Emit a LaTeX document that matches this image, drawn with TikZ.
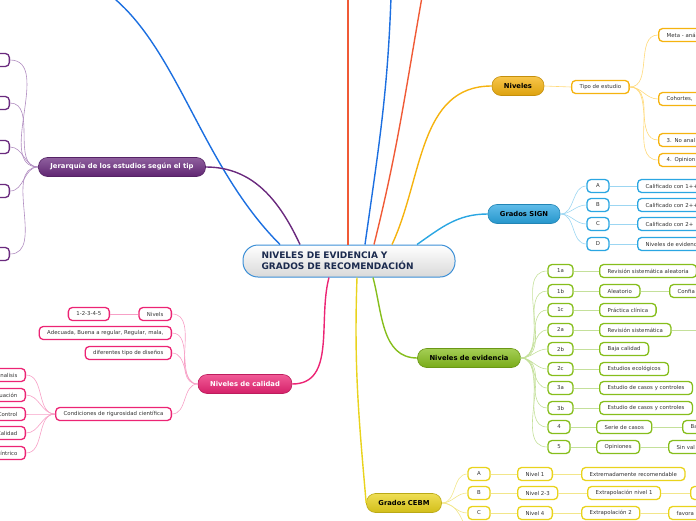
\documentclass[tikz,border=0pt]{standalone}
\usepackage{fontspec}
\setmainfont{DejaVu Sans}
\usepackage{xcolor}
\usepackage{tikz}

\definecolor{hubline}{HTML}{3C8FD6}
\definecolor{hubtext}{HTML}{1B2A4E}
\definecolor{leaftext}{HTML}{333333}
\definecolor{tangerine}{HTML}{F5B30F}
\definecolor{tangerinepale}{HTML}{FFD978}
\definecolor{sky}{HTML}{2AA6E2}
\definecolor{skypale}{HTML}{9CD6F2}
\definecolor{lime}{HTML}{86BE1C}
\definecolor{limepale}{HTML}{C4E09A}
\definecolor{sun}{HTML}{E9D31C}
\definecolor{sunpale}{HTML}{F2E68A}
\definecolor{plum}{HTML}{6A2A7E}
\definecolor{plumpale}{HTML}{B08CC0}
\definecolor{rosy}{HTML}{EC2474}
\definecolor{rosypale}{HTML}{F7A0C6}
\definecolor{azure}{HTML}{1C6FE0}
\definecolor{coral}{HTML}{F05A36}

\begin{document}
\begin{tikzpicture}[
    x=1pt, y=-1pt,
    hub/.style={
      draw=hubline, line width=1pt, rounded corners=15pt,
      top color=white, bottom color=black!15, text=hubtext,
      text width=175pt, align=left, inner xsep=18.5pt, minimum height=32pt,
      font=\fontsize{9}{11}\selectfont\bfseries,
    },
    topic/.style={
      draw=#1!80!black, line width=0.6pt, rounded corners=9pt,
      top color=#1!75, bottom color=#1!90!black,
      minimum height=19pt, inner xsep=12pt, inner ysep=0pt,
      font=\fontsize{6.8}{8}\selectfont\bfseries,
    },
    leaf/.style={
      draw=#1, fill=white, line width=1.3pt, rounded corners=4pt,
      minimum height=13pt, inner xsep=8pt, inner ysep=0pt, text=leaftext,
      font=\fontsize{5.4}{6.5}\selectfont,
    },
    code/.style={leaf=#1, minimum width=22pt, inner xsep=4pt},
    cutR/.style={leaf=#1, anchor=west, text width=60pt, align=left},
    cutL/.style={leaf=#1, anchor=east, text width=40pt, align=right},
    trunk/.style={draw=#1, line width=1.4pt},
    twig/.style={draw=#1, line width=0.6pt},
  ]
  \useasboundingbox (0,0) rectangle (696,520);
  \clip (0,0) rectangle (696,520);

  % Central topic
  \node[hub] (hub) at (349,261) {NIVELES DE EVIDENCIA Y\\GRADOS DE RECOMENDACIÓN};

  % Branches leaving the picture at the top
  \coordinate (upA) at (20,-35);
  \coordinate (upB) at (348,-3);
  \coordinate (upC) at (391,-3);
  \coordinate (upD) at (422,-3);

  % Niveles
  \node[topic=tangerine] (niv) at (518,86) {Niveles};
  \node[leaf=tangerine, anchor=west] (tipo) at (571,87) {Tipo de estudio};
  \node[cutR=tangerine] (meta) at (658,35)  {Meta - anál};
  \node[cutR=tangerine] (coh)  at (658,99)  {Cohortes,};
  \node[cutR=tangerine] (noan) at (658,140) {3. No anal};
  \node[cutR=tangerine] (opin) at (658,160) {4. Opinion};

  % Grados SIGN
  \node[topic=sky] (sign) at (524,214) {Grados SIGN};
  \node[code=sky] (signA) at (598,186) {A};
  \node[code=sky] (signB) at (598,205) {B};
  \node[code=sky] (signC) at (598,224) {C};
  \node[code=sky] (signD) at (598,244) {D};
  \node[cutR=sky] (calA) at (637,186) {Calificado con 1++};
  \node[cutR=sky] (calB) at (637,205) {Calificado con 2++};
  \node[cutR=sky] (calC) at (637,224) {Calificado con 2+};
  \node[cutR=sky] (calD) at (637,244) {Niveles de evidenc};

  % Niveles de evidencia
  \node[topic=lime] (evid) at (469,358) {Niveles de evidencia};
  \node[code=lime, minimum width=25pt] (e1a) at (560.5,271) {1a};
  \node[code=lime, minimum width=25pt] (e1b) at (560.5,291) {1b};
  \node[code=lime, minimum width=25pt] (e1c) at (560.5,310) {1c};
  \node[code=lime, minimum width=25pt] (e2a) at (560.5,330) {2a};
  \node[code=lime, minimum width=25pt] (e2b) at (560.5,349) {2b};
  \node[code=lime, minimum width=25pt] (e2c) at (560.5,369) {2c};
  \node[code=lime, minimum width=25pt] (e3a) at (560.5,388) {3a};
  \node[code=lime, minimum width=25pt] (e3b) at (560.5,408) {3b};
  \node[code=lime] (e4) at (559,427) {4};
  \node[code=lime] (e5) at (559,447) {5};
  \node[leaf=lime, anchor=west] (rsa)   at (599,271) {Revisión sistemática aleatoria};
  \node[leaf=lime, anchor=west] (alea)  at (599,291) {Aleatorio};
  \node[cutR=lime]              (conf)  at (669,291) {Confia};
  \node[leaf=lime, anchor=west] (prac)  at (599,310) {Práctica clínica};
  \node[leaf=lime, anchor=west] (rsis)  at (599,330) {Revisión sistemática};
  \coordinate (rsisOut) at (702,330);
  \node[leaf=lime, anchor=west] (baja)  at (599,349) {Baja calidad};
  \node[leaf=lime, anchor=west] (ecol)  at (599,369) {Estudios ecológicos};
  \node[leaf=lime, anchor=west] (cc3a)  at (599,388) {Estudio de casos y controles};
  \node[leaf=lime, anchor=west] (cc3b)  at (599,408) {Estudio de casos y controles};
  \node[leaf=lime, anchor=west] (serie) at (596,427) {Serie de casos};
  \node[cutR=lime]              (ba)    at (682,427) {Ba};
  \node[leaf=lime, anchor=west] (opis)  at (596,447) {Opiniones};
  \node[cutR=lime]              (sinv)  at (668,447) {Sin val};

  % Grados CEBM
  \node[topic=sun] (cebm) at (404,503) {Grados CEBM};
  \node[code=sun] (cA) at (479,474) {A};
  \node[code=sun] (cB) at (479,493) {B};
  \node[code=sun] (cC) at (479,513) {C};
  \coordinate (cebmOut) at (470,536);
  \node[leaf=sun, anchor=west] (n1)   at (517,474) {Nivel 1};
  \node[leaf=sun, anchor=west] (n23)  at (517,493) {Nivel 2-3};
  \node[leaf=sun, anchor=west] (n4)   at (517,513) {Nivel 4};
  \node[leaf=sun, anchor=west] (extr) at (581,474) {Extremadamente recomendable};
  \node[leaf=sun, anchor=west] (ext1) at (587,493) {Extrapolación nivel 1};
  \node[cutR=sun]              (extB) at (690,493) {};
  \node[leaf=sun, anchor=west] (ext2) at (581,513) {Extrapolación 2};
  \node[cutR=sun]              (fav)  at (668,513) {favora};

  % Jerarquia (left)
  \node[topic=plum, text=white] (jer) at (122,167) {Jerarquía de los estudios según el tip};
  \node[cutL=plum] (jer1) at (10,60)  {};
  \node[cutL=plum] (jer2) at (10,103) {};
  \node[cutL=plum] (jer3) at (10,147) {};
  \node[cutL=plum] (jer4) at (10,191) {};
  \node[cutL=plum] (jer5) at (10,254) {};

  % Niveles de calidad
  \node[topic=rosy, text=white] (cali) at (245,384) {Niveles de calidad};
  \node[leaf=rosy, anchor=east] (nivs)   at (172,314) {Nivels};
  \node[leaf=rosy, anchor=east] (escala) at (110,314) {1-2-3-4-5};
  \node[leaf=rosy, anchor=east] (adec)   at (172,333) {Adecuada, Buena a regular, Regular, mala,};
  \node[leaf=rosy, anchor=east] (dise)   at (172,353) {diferentes tipo de diseños};
  \node[leaf=rosy, anchor=east] (cond)   at (172,414) {Condiciones de rigurosidad científica};
  \node[cutL=rosy] (cond1) at (26,375) {nalisis};
  \node[cutL=rosy] (cond2) at (26,395) {uación};
  \node[cutL=rosy] (cond3) at (26,414) {Control};
  \node[cutL=rosy] (cond4) at (26,433) {Calidad};
  \node[cutL=rosy] (cond5) at (26,453) {íntrico};

  % Trunks from the central topic
  \draw[trunk=azure] ([xshift=-69pt]hub.north) to[out=135,in=0] (upA);
  \draw[trunk=plum] (jer.east) to[out=0,in=115] ([xshift=-49pt]hub.north);
  \draw[trunk=coral] ([xshift=-1pt]hub.north) -- (upB);
  \draw[trunk=azure] ([xshift=16pt]hub.north) to[out=82,in=-92] (upC);
  \draw[trunk=coral] ([xshift=25pt]hub.north) to[out=76,in=-100] (upD);
  \draw[trunk=tangerine] ([xshift=43pt]hub.north) to[out=65,in=180] (niv.west);
  \draw[trunk=sky] ([xshift=68pt]hub.north) to[out=35,in=180] (sign.west);
  \draw[trunk=lime] ([xshift=24pt]hub.south) to[out=-75,in=180] (evid.west);
  \draw[trunk=sun] ([xshift=8pt]hub.south) to[out=-92,in=95] (cebm.west);
  \draw[trunk=rosy] ([xshift=-20pt]hub.south) to[out=-105,in=0] (cali.east);

  % Twigs
  \draw[twig=tangerinepale] (niv.east) -- (tipo.west);
  \foreach \k in {meta,coh,noan,opin}
    \draw[twig=tangerinepale] (tipo.east) to[out=0,in=180] (\k.west);

  \foreach \k in {A,B,C,D} {
    \draw[twig=skypale] (sign.east) to[out=0,in=180] (sign\k.west);
    \draw[twig=skypale] (sign\k.east) -- (cal\k.west);
  }

  \foreach \k in {e1a,e1b,e1c,e2a,e2b,e2c,e3a,e3b,e4,e5}
    \draw[twig=limepale] (evid.east) to[out=0,in=180] (\k.west);
  \draw[twig=limepale] (e1a.east) -- (rsa.west);
  \draw[twig=limepale] (e1b.east) -- (alea.west);
  \draw[twig=limepale] (alea.east) -- (conf.west);
  \draw[twig=limepale] (e1c.east) -- (prac.west);
  \draw[twig=limepale] (e2a.east) -- (rsis.west);
  \draw[twig=limepale] (rsis.east) -- (rsisOut);
  \draw[twig=limepale] (e2b.east) -- (baja.west);
  \draw[twig=limepale] (e2c.east) -- (ecol.west);
  \draw[twig=limepale] (e3a.east) -- (cc3a.west);
  \draw[twig=limepale] (e3b.east) -- (cc3b.west);
  \draw[twig=limepale] (e4.east) -- (serie.west);
  \draw[twig=limepale] (serie.east) -- (ba.west);
  \draw[twig=limepale] (e5.east) -- (opis.west);
  \draw[twig=limepale] (opis.east) -- (sinv.west);

  \foreach \k in {cA,cB,cC}
    \draw[twig=sunpale] (cebm.east) to[out=0,in=180] (\k.west);
  \draw[twig=sunpale] (cebm.east) to[out=0,in=120] (cebmOut);
  \draw[twig=sunpale] (cA.east) -- (n1.west);
  \draw[twig=sunpale] (cB.east) -- (n23.west);
  \draw[twig=sunpale] (cC.east) -- (n4.west);
  \draw[twig=sunpale] (n1.east) -- (extr.west);
  \draw[twig=sunpale] (n23.east) -- (ext1.west);
  \draw[twig=sunpale] (ext1.east) -- (extB.west);
  \draw[twig=sunpale] (n4.east) -- (ext2.west);
  \draw[twig=sunpale] (ext2.east) -- (fav.west);

  \foreach \k in {jer1,jer2,jer3,jer4,jer5}
    \draw[twig=plumpale] (jer.west) to[out=180,in=0] (\k.east);

  \foreach \k in {nivs,adec,dise,cond}
    \draw[twig=rosypale] (cali.west) to[out=180,in=0] (\k.east);
  \draw[twig=rosypale] (nivs.west) -- (escala.east);
  \foreach \k in {cond1,cond2,cond3,cond4,cond5}
    \draw[twig=rosypale] (cond.west) to[out=180,in=0] (\k.east);

\end{tikzpicture}
\end{document}
